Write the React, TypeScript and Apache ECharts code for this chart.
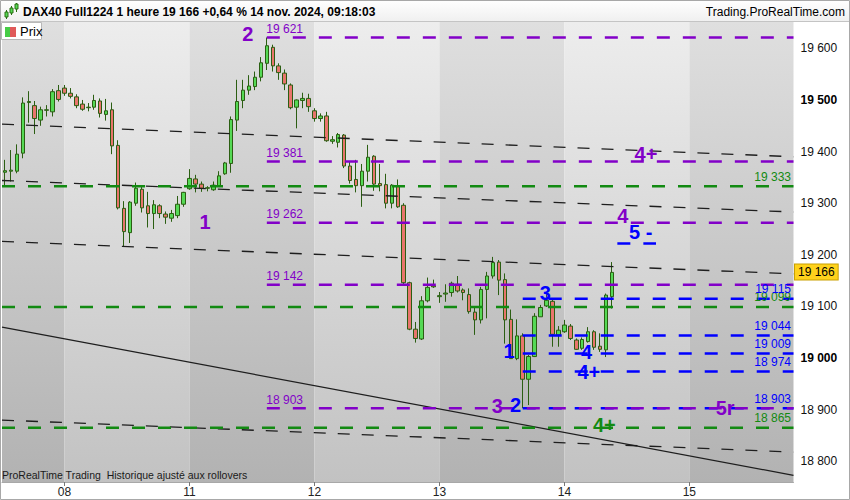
import React, { useEffect, useRef } from "react";
import * as echarts from "echarts";

type OHLC = [number, number, number, number]; // open, high, low, close

const dayLabels = ["07", "08", "11", "12", "13", "14", "15"];
const dayFirstHour = [12, 1, 1, 1, 1, 1, 1];
const dayLastHour = [21, 21, 21, 21, 21, 21, 18];

const nov07: OHLC[] = [
  [19360, 19384, 19335, 19363], [19362, 19403, 19342, 19364], [19362, 19414, 19358, 19395],
  [19397, 19505, 19387, 19494], [19495, 19517, 19456, 19497], [19489, 19498, 19434, 19464],
  [19461, 19487, 19450, 19481], [19480, 19490, 19468, 19481], [19477, 19521, 19468, 19516],
  [19518, 19529, 19497, 19501],
];
const nov08: OHLC[] = [
  [19523, 19529, 19508, 19513], [19513, 19523, 19503, 19507], [19506, 19511, 19484, 19489],
  [19492, 19500, 19479, 19482], [19485, 19494, 19478, 19486], [19486, 19510, 19481, 19499],
  [19498, 19503, 19466, 19474], [19472, 19502, 19460, 19479], [19481, 19495, 19395, 19411],
  [19412, 19422, 19288, 19291], [19290, 19304, 19217, 19245], [19243, 19304, 19223, 19302],
  [19300, 19340, 19295, 19329], [19327, 19333, 19282, 19291], [19295, 19322, 19253, 19280],
  [19280, 19306, 19250, 19297], [19295, 19298, 19271, 19280], [19279, 19284, 19260, 19273],
  [19271, 19287, 19264, 19280], [19276, 19314, 19271, 19298], [19298, 19322, 19293, 19321],
];
const nov11: OHLC[] = [
  [19328, 19366, 19326, 19348], [19347, 19355, 19321, 19337], [19337, 19342, 19322, 19329],
  [19329, 19333, 19323, 19330], [19326, 19342, 19324, 19335], [19334, 19362, 19333, 19353],
  [19357, 19380, 19355, 19378], [19377, 19468, 19359, 19462], [19461, 19539, 19440, 19497],
  [19499, 19539, 19484, 19519], [19519, 19548, 19510, 19527], [19526, 19555, 19519, 19544],
  [19544, 19583, 19536, 19572], [19571, 19621, 19558, 19605], [19602, 19607, 19555, 19566],
  [19566, 19571, 19539, 19553], [19552, 19559, 19519, 19531], [19529, 19532, 19482, 19485],
  [19486, 19501, 19445, 19500], [19499, 19514, 19484, 19503], [19503, 19512, 19477, 19487],
];
const nov12: OHLC[] = [
  [19479, 19484, 19458, 19464], [19464, 19474, 19458, 19469], [19469, 19477, 19419, 19421],
  [19420, 19430, 19415, 19423], [19418, 19436, 19408, 19433], [19432, 19434, 19368, 19372],
  [19372, 19380, 19338, 19344], [19346, 19384, 19321, 19334], [19334, 19376, 19293, 19362],
  [19362, 19413, 19342, 19389], [19391, 19393, 19324, 19337], [19338, 19376, 19323, 19334],
  [19336, 19357, 19290, 19300], [19300, 19337, 19290, 19335], [19333, 19346, 19291, 19293],
  [19296, 19300, 19143, 19146], [19146, 19148, 19054, 19056], [19056, 19070, 19030, 19038],
  [19037, 19120, 19035, 19111], [19111, 19156, 19108, 19137], [19140, 19152, 19136, 19138],
];
const nov13: OHLC[] = [
  [19119, 19128, 19107, 19121], [19124, 19143, 19109, 19126], [19127, 19148, 19119, 19145],
  [19143, 19159, 19127, 19130], [19132, 19135, 19112, 19127], [19123, 19135, 19086, 19090],
  [19089, 19099, 19045, 19074], [19074, 19138, 19067, 19133], [19133, 19167, 19077, 19159],
  [19159, 19196, 19154, 19185], [19186, 19190, 19122, 19151], [19152, 19164, 19028, 19074],
  [19075, 19094, 18999, 18999], [18999, 19075, 18996, 19043], [19043, 19048, 18903, 18959],
  [18959, 19006, 18909, 19003], [19003, 19087, 19002, 19081], [19080, 19103, 19080, 19098],
  [19101, 19128, 19099, 19112], [19110, 19114, 19022, 19046], [19045, 19062, 19022, 19054],
];
const nov14: OHLC[] = [
  [19051, 19074, 19049, 19064], [19062, 19066, 19035, 19038], [19035, 19038, 19016, 19017],
  [19019, 19040, 19016, 19036], [19032, 19060, 19030, 19051], [19051, 19054, 19016, 19021],
  [19023, 19048, 19012, 19017], [19016, 19125, 19002, 19122], [19119, 19186, 19096, 19166],
];
const nov15: OHLC[] = [];
const candlesByDay = [nov07, nov08, nov11, nov12, nov13, nov14, nov15];

const lastPrice = 19166;
const yTicks = [18800, 18900, 19000, 19100, 19200, 19300, 19400, 19500, 19600];
const yBold = [19000, 19500];
const yMin = 18760;
const yMax = 19651;

// horizontal levels
const purpleLevels = [19621, 19381, 19262, 19142, 18903];
const purpleFromSlot = 44.5;
const greenLevels = [19333, 19099, 18865];
const greenFromSlot = 0;
const blueLevels = [19115, 19044, 19009, 18974, 18903];
const blueFromSlot = 87.5;
const blueShortLevel = 19222;
const blueShortSlots = [103.4, 109.9];

// sloped lines: value at first slot edge and at last slot edge
const channelLines: [number, number][] = [
  [19453, 19390],
  [19344, 19283],
  [19226, 19163],
  [18880, 18818],
];
const trendLine: [number, number] = [19060, 18773];

// wave annotations: [slot, value, text, colour key]
const annotations: [number, number, string, string][] = [
  [41.4, 19626, "2", "p"],
  [34.2, 19262, "1", "p"],
  [83.3, 18906, "3", "p"],
  [108.3, 19395, "4+", "p"],
  [104.4, 19274, "4", "p"],
  [121.6, 18903, "5r", "p"],
  [91.4, 19126, "3", "b"],
  [85.3, 19013, "1", "b"],
  [86.4, 18909, "2", "b"],
  [98.3, 19010, "4", "b"],
  [98.7, 18972, "4+", "b"],
  [107.4, 19244, "5 -", "b"],
  [101.3, 18870, "4+", "g"],
];

const FONT = '"Liberation Sans", Arial, sans-serif';
const PURPLE = "#8200c8";
const BLUE = "#0000ff";
const GREEN = "#128a12";
const colorOf: Record<string, string> = { p: PURPLE, b: BLUE, g: GREEN };

const fmt = (v: number) => `${Math.floor(v / 1000)} ${String(Math.round(v) % 1000).padStart(3, "0")}`;

export default function App() {
  const ref = useRef<HTMLDivElement>(null);
  useEffect(() => {
    if (!ref.current) return;
    const chart = echarts.init(ref.current, undefined, { renderer: "svg" });

    const categories: string[] = [];
    const candleData: any[] = [];
    const dayStart: number[] = [];
    const labelIdx = new Set<number>();
    dayLabels.forEach((d, di) => {
      dayStart.push(categories.length);
      if (dayFirstHour[di] === 1) labelIdx.add(categories.length);
      for (let h = dayFirstHour[di]; h <= dayLastHour[di]; h++) {
        const k = h - dayFirstHour[di];
        categories.push(`${d}|${h}`);
        const c = candlesByDay[di][k];
        candleData.push(c ? [c[0], c[3], c[2], c[1]] : "-");
      }
    });
    const slotCount = categories.length;

    const grad = (a: string, b: string) =>
      new echarts.graphic.LinearGradient(0, 0, 0, 1, [
        { offset: 0, color: a },
        { offset: 1, color: b },
      ]);
    const bandDark = grad("#dfdfdf", "#b2b2b2");
    const bandLight = grad("#ededed", "#c2c2c2");
    const bands = dayStart.map((s, i) => {
      const a = i === 0 ? 0 : s + 0.5;
      const b = i + 1 < dayStart.length ? dayStart[i + 1] + 0.5 : slotCount;
      return [
        { xAxis: a, itemStyle: { color: i % 2 === 0 ? bandDark : bandLight } },
        { xAxis: b },
      ];
    });

    const lineSeries = (data: number[][], color: string, width: number, type: any, z: number) => ({
      type: "line",
      xAxisIndex: 1,
      yAxisIndex: 0,
      data,
      symbol: "none",
      silent: true,
      z,
      lineStyle: { color, width, type },
    });

    const series: any[] = [];
    series.push({
      type: "line",
      xAxisIndex: 1,
      yAxisIndex: 0,
      data: [[0, 19000]],
      symbol: "none",
      lineStyle: { opacity: 0 },
      silent: true,
      z: 0,
      markArea: { silent: true, data: bands },
    });
    series.push({
      type: "candlestick",
      xAxisIndex: 0,
      yAxisIndex: 0,
      data: candleData,
      barWidth: 4,
      z: 5,
      itemStyle: {
        color: "#55d955",
        color0: "#e8756c",
        borderColor: "#2b5e12",
        borderColor0: "#2b5e12",
        borderColorDoji: "#2b5e12",
        borderWidth: 1,
      },
    });
    channelLines.forEach(([a, b]) =>
      series.push(lineSeries([[0, a], [slotCount, b]], "#1e1e1e", 1.3, [12, 12], 6))
    );
    series.push(lineSeries([[0, trendLine[0]], [slotCount, trendLine[1]]], "#1e1e1e", 1.2, "solid", 6));
    blueLevels.forEach((v) => series.push(lineSeries([[blueFromSlot, v], [slotCount, v]], BLUE, 2.5, [13, 13], 7)));
    greenLevels.forEach((v) => series.push(lineSeries([[greenFromSlot, v], [slotCount, v]], GREEN, 2.5, [13, 13], 7)));
    purpleLevels.forEach((v) => series.push(lineSeries([[purpleFromSlot, v], [slotCount, v]], PURPLE, 2.5, [13, 13], 8)));
    series.push(
      lineSeries([[blueShortSlots[0], blueShortLevel], [blueShortSlots[1], blueShortLevel]], BLUE, 2.5, [13, 13], 7)
    );

    const plain = { textBorderWidth: 0, textShadowBlur: 0, textBorderColor: "transparent", opacity: 1 };
    const texts: any[] = [];
    purpleLevels.forEach((v) =>
      texts.push({
        value: [purpleFromSlot, v],
        label: { ...plain, formatter: fmt(v), color: PURPLE, fontSize: 12, position: [0, -8], align: "left", verticalAlign: "middle" },
      })
    );
    [...greenLevels.map((v) => [v, GREEN] as [number, string]), ...blueLevels.map((v) => [v, BLUE] as [number, string])].forEach(
      ([v, c]) =>
        texts.push({
          value: [slotCount, v],
          label: { ...plain, formatter: fmt(v), color: c, fontSize: 12, position: [-2, -9], align: "right", verticalAlign: "middle" },
        })
    );
    annotations.forEach(([s, v, t, c]) =>
      texts.push({
        value: [s, v],
        label: {
          ...plain,
          formatter: t,
          color: colorOf[c],
          fontSize: 20,
          fontWeight: "bold",
          position: [0, 0],
          align: "center",
          verticalAlign: "middle",
        },
      })
    );
    texts.push({
      value: [slotCount, lastPrice],
      label: {
        ...plain,
        formatter: fmt(lastPrice),
        color: "#000",
        fontSize: 12,
        position: [2, 0],
        align: "left",
        verticalAlign: "middle",
        backgroundColor: "#ffd21c",
        borderColor: "#c9a000",
        borderWidth: 1,
        padding: [2, 3, 1, 3],
      },
    });
    series.push({
      type: "scatter",
      xAxisIndex: 1,
      yAxisIndex: 0,
      symbolSize: 1,
      itemStyle: { color: "rgba(0,0,0,0)", opacity: 1 },
      silent: true,
      clip: false,
      z: 10,
      label: { show: true, fontFamily: FONT, ...plain },
      data: texts,
    });

    const option: any = {
      animation: false,
      backgroundColor: "#ffffff",
      textStyle: { fontFamily: FONT },
      grid: { left: 2, right: 56.5, top: 22, bottom: 18, containLabel: false },
      xAxis: [
        {
          type: "category",
          data: categories,
          boundaryGap: true,
          axisLine: { show: true, lineStyle: { color: "#a8a8a8" } },
          axisTick: {
            show: true,
            interval: (i: number) => labelIdx.has(i),
            alignWithLabel: true,
            length: 4,
            lineStyle: { color: "#777" },
          },
          axisLabel: {
            interval: (i: number) => labelIdx.has(i),
            formatter: (v: string) => v.split("|")[0],
            fontSize: 12,
            color: "#222",
            margin: 4,
            fontFamily: FONT,
          },
          splitLine: { show: false },
        },
        { type: "value", min: 0, max: slotCount, show: false },
      ],
      yAxis: {
        type: "value",
        position: "right",
        min: yMin,
        max: yMax,
        axisLine: { show: true, lineStyle: { color: "#b0b0b0" } },
        axisTick: { show: true, length: 4, customValues: yTicks, lineStyle: { color: "#777" } },
        axisLabel: {
          customValues: yTicks,
          margin: 7,
          fontSize: 12,
          color: "#111",
          fontFamily: FONT,
          formatter: (v: number) => (yBold.includes(v) ? `{b|${fmt(v)}}` : fmt(v)),
          rich: { b: { fontWeight: "bold", fontSize: 12, color: "#000", fontFamily: FONT } },
        },
        splitLine: { show: false },
      },
      series,
      graphic: [
        {
          type: "rect",
          shape: { x: 0, y: 0, width: 850, height: 21 },
          style: { fill: grad("#ffffff", "#f0f0f0") },
          z: 100,
        },
        { type: "line", shape: { x1: 0, y1: 21.5, x2: 850, y2: 21.5 }, style: { stroke: "#c4c4c4", lineWidth: 1 }, z: 101 },
        { type: "line", shape: { x1: 6.5, y1: 10, x2: 6.5, y2: 19 }, style: { stroke: "#2b6e12", lineWidth: 1 }, z: 101 },
        { type: "rect", shape: { x: 5, y: 12, width: 3, height: 5 }, style: { fill: "#55d955", stroke: "#2b6e12", lineWidth: 1 }, z: 102 },
        { type: "line", shape: { x1: 11.5, y1: 6, x2: 11.5, y2: 15 }, style: { stroke: "#2b6e12", lineWidth: 1 }, z: 101 },
        { type: "rect", shape: { x: 10, y: 8, width: 3, height: 5 }, style: { fill: "#55d955", stroke: "#2b6e12", lineWidth: 1 }, z: 102 },
        { type: "line", shape: { x1: 16.5, y1: 3, x2: 16.5, y2: 12 }, style: { stroke: "#2b6e12", lineWidth: 1 }, z: 101 },
        { type: "rect", shape: { x: 15, y: 4, width: 3, height: 5 }, style: { fill: "#55d955", stroke: "#2b6e12", lineWidth: 1 }, z: 102 },
        {
          type: "text",
          x: 23,
          y: 12,
          style: {
            text: "DAX40 Full1224 1 heure 19 166 +0,64 % 14 nov. 2024, 09:18:03",
            fill: "#000",
            fontSize: 12,
            fontWeight: "bold",
            fontFamily: FONT,
            verticalAlign: "middle",
          },
          z: 102,
        },
        {
          type: "text",
          x: 845,
          y: 12,
          style: {
            text: "Trading.ProRealTime.com",
            fill: "#000",
            fontSize: 12,
            fontFamily: FONT,
            align: "right",
            verticalAlign: "middle",
          },
          z: 102,
        },
        {
          type: "rect",
          shape: { x: 1.5, y: 22.5, width: 40, height: 17 },
          style: { fill: "#ffffff", stroke: "#b8b8b8", lineWidth: 1 },
          z: 100,
        },
        { type: "rect", shape: { x: 5, y: 27, width: 5, height: 10 }, style: { fill: "#46cc46" }, z: 101 },
        { type: "rect", shape: { x: 10, y: 27, width: 6, height: 10 }, style: { fill: "#e05a5a" }, z: 101 },
        {
          type: "text",
          x: 20,
          y: 31.5,
          style: { text: "Prix", fill: "#000", fontSize: 13, fontFamily: FONT, verticalAlign: "middle" },
          z: 101,
        },
        {
          type: "text",
          x: 2,
          y: 475,
          style: {
            text: "ProRealTime Trading  Historique ajusté aux rollovers",
            fill: "#1a1a1a",
            fontSize: 10.5,
            fontFamily: FONT,
            verticalAlign: "middle",
          },
          z: 100,
        },
        {
          type: "rect",
          shape: { x: 0.5, y: 0.5, width: 849, height: 499 },
          style: { fill: "none", stroke: "#a8a8a8", lineWidth: 1 },
          z: 103,
        },
      ],
    };
    chart.setOption(option);
    return () => chart.dispose();
  }, []);
  return <div ref={ref} style={{ position: "absolute", left: 0, top: 0, width: 850, height: 500 }} />;
}
